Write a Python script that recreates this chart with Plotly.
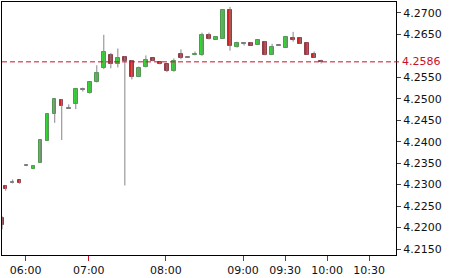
import plotly.graph_objects as go

# OHLC values (5-minute bars)
opens  = [4.2222, 4.2296, 4.2305, 4.2310, 4.2344, 4.2337, 4.2351, 4.2402, 4.2464, 4.2497,
          4.2478, 4.2487, 4.2522, 4.2513, 4.2538, 4.2571, 4.2603, 4.2580, 4.2598, 4.2589,
          4.2550, 4.2573, 4.2594, 4.2585, 4.2580, 4.2564, 4.2605, 4.2596, 4.2601, 4.2601,
          4.2649, 4.2638, 4.2640, 4.2707, 4.2621, 4.2628, 4.2631, 4.2626, 4.2633, 4.2603,
          4.2624, 4.2619, 4.2642, 4.2642, 4.2631, 4.2605, 4.2588]
highs  = [4.2226, 4.2298, 4.2312, 4.2311, 4.2345, 4.2345, 4.2404, 4.2464, 4.2500, 4.2499,
          4.2487, 4.2523, 4.2526, 4.2539, 4.2578, 4.2649, 4.2607, 4.2617, 4.2599, 4.2590,
          4.2575, 4.2601, 4.2595, 4.2586, 4.2581, 4.2594, 4.2615, 4.2596, 4.2610, 4.2654,
          4.2654, 4.2645, 4.2709, 4.2714, 4.2633, 4.2632, 4.2632, 4.2638, 4.2634, 4.2628,
          4.2624, 4.2645, 4.2656, 4.2642, 4.2631, 4.2610, 4.2591]
lows   = [4.2196, 4.2286, 4.2303, 4.2302, 4.2343, 4.2336, 4.2351, 4.2402, 4.2444, 4.2404,
          4.2477, 4.2476, 4.2517, 4.2512, 4.2538, 4.2569, 4.2571, 4.2573, 4.2298, 4.2545,
          4.2550, 4.2573, 4.2587, 4.2580, 4.2562, 4.2563, 4.2592, 4.2596, 4.2601, 4.2600,
          4.2638, 4.2638, 4.2640, 4.2612, 4.2619, 4.2624, 4.2624, 4.2626, 4.2601, 4.2603,
          4.2624, 4.2619, 4.2633, 4.2628, 4.2603, 4.2596, 4.2582]
closes = [4.2206, 4.2289, 4.2305, 4.2303, 4.2344, 4.2344, 4.2404, 4.2464, 4.2499, 4.2483,
          4.2478, 4.2522, 4.2522, 4.2538, 4.2561, 4.2610, 4.2582, 4.2596, 4.2589, 4.2550,
          4.2571, 4.2591, 4.2587, 4.2580, 4.2564, 4.2589, 4.2594, 4.2596, 4.2605, 4.2649,
          4.2640, 4.2645, 4.2707, 4.2624, 4.2631, 4.2628, 4.2624, 4.2638, 4.2603, 4.2621,
          4.2624, 4.2645, 4.2638, 4.2628, 4.2603, 4.2596, 4.2586]

tick_labels = ["06:00", "07:00", "08:00", "09:00", "09:30", "10:00", "10:30"]
tick_slots = [3, 12, 23, 34, 40, 46, 52]
y_ticks = [4.2150, 4.2200, 4.2250, 4.2300, 4.2350, 4.2400, 4.2450, 4.2500, 4.2550, 4.2650, 4.2700]
last_price = 4.2586

# bar slots: the first bar is partly clipped at the left edge
slots = [-0.5] + list(range(len(opens) - 1))

GREEN, GREEN_EDGE = "#33d633", "#4f9a4f"
RED, RED_EDGE = "#d02424", "#8e3e4e"
DOJI = "#7a7a7a"

fig = go.Figure()

# wicks
wx, wy = [], []
for s, h, l in zip(slots, highs, lows):
    wx += [s, s, None]
    wy += [l, h, None]
fig.add_trace(go.Scatter(x=wx, y=wy, mode="lines", line=dict(color="#858585", width=1),
                         hoverinfo="skip", showlegend=False))

# bodies
base, height, fill, edge = [], [], [], []
for o, c in zip(opens, closes):
    lo = min(o, c)
    hgt = abs(c - o)
    if hgt < 0.0002:
        lo = (o + c) / 2 - 0.0001
        hgt = 0.0002
    base.append(lo)
    height.append(hgt)
    if c > o:
        fill.append(GREEN); edge.append(GREEN_EDGE)
    elif c < o:
        fill.append(RED); edge.append(RED_EDGE)
    else:
        fill.append(DOJI); edge.append(DOJI)

fig.add_trace(go.Bar(x=slots, y=height, base=base, width=0.5,
                     marker=dict(color=fill, line=dict(color=edge, width=1)),
                     showlegend=False, hoverinfo="skip"))

# last price dashed line and label
fig.add_shape(type="line", xref="paper", yref="y", x0=0, x1=1.012, y0=last_price, y1=last_price,
              line=dict(color="#c8102e", width=1, dash="5px,3px"), layer="above")
fig.add_annotation(xref="paper", yref="y", x=1, y=last_price, text=f"{last_price:.4f}",
                   showarrow=False, xanchor="left", xshift=4, yshift=0,
                   font=dict(family="DejaVu Sans", size=11, color="#c8102e"))

fig.update_layout(
    width=455, height=278,
    margin=dict(l=1, r=59, t=1, b=22),
    paper_bgcolor="white", plot_bgcolor="white",
    bargap=0, showlegend=False,
    font=dict(family="DejaVu Sans", size=11, color="#111111"),
)
fig.update_xaxes(
    range=[-0.52, 55.67], showgrid=False, zeroline=False,
    showline=True, linecolor="black", linewidth=1, mirror=True,
    tickmode="array", tickvals=[s - 0.15 for s in tick_slots], ticktext=tick_labels,
    ticks="outside", ticklen=5, tickcolor="#c8102e", tickwidth=1,
)
fig.update_yaxes(
    range=[4.21361, 4.27254], side="right", showgrid=False, zeroline=False,
    showline=True, linecolor="black", linewidth=1, mirror=True,
    tickmode="array", tickvals=y_ticks, ticktext=[f"{v:.4f}" for v in y_ticks],
    ticks="outside", ticklen=4, tickcolor="#444444", tickwidth=1,
)

fig.write_html("out.html")
